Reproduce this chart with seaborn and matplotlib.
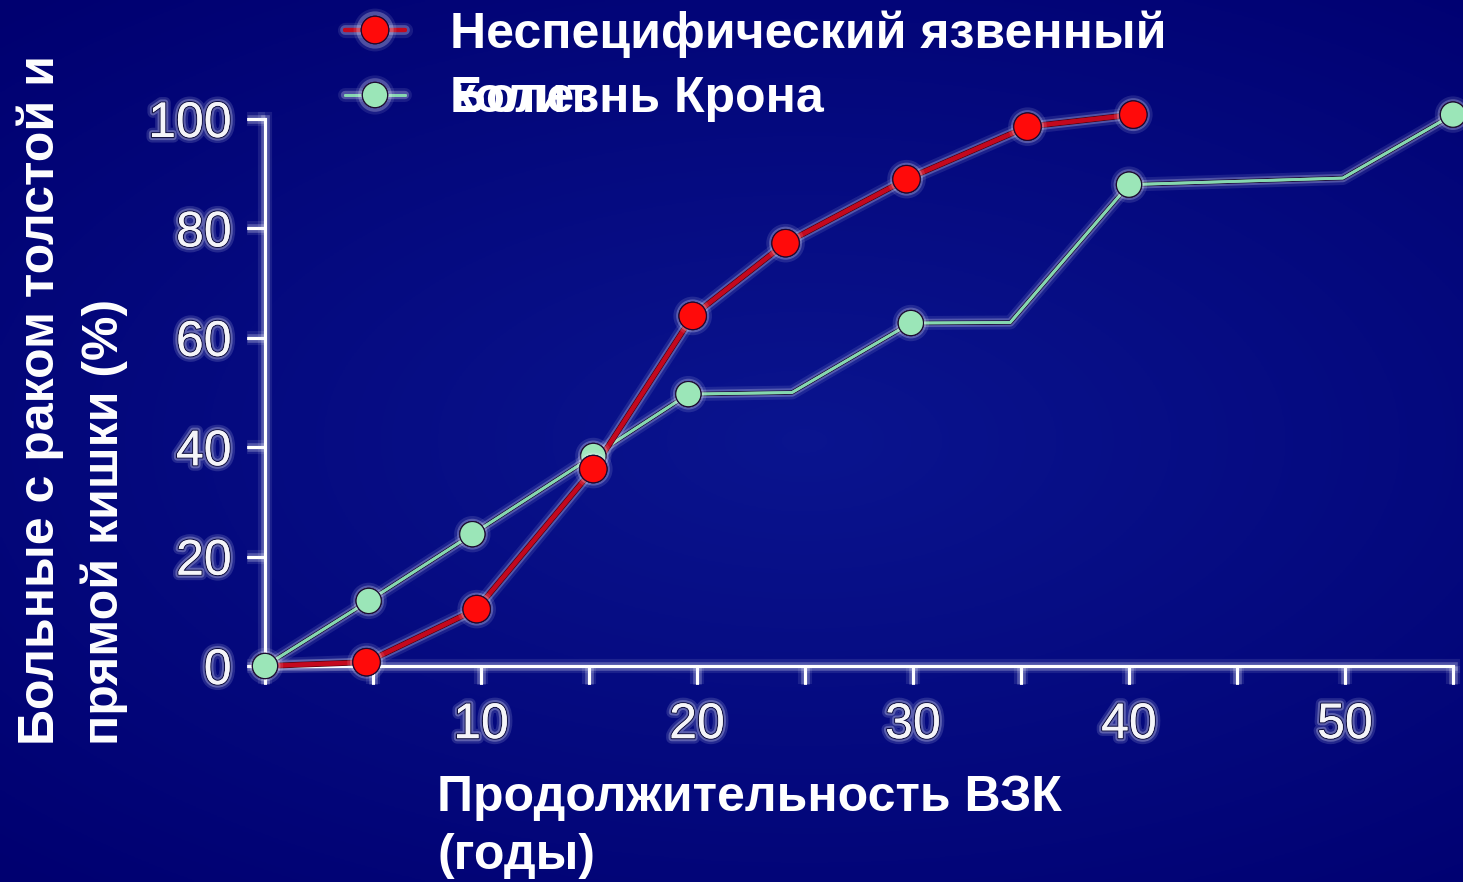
import numpy as np
import matplotlib
matplotlib.use("Agg")
import matplotlib.pyplot as plt
import matplotlib.patheffects as pe
from matplotlib.lines import Line2D
from matplotlib.transforms import IdentityTransform
import seaborn as sns

# Cumulative share of colorectal cancer cases by disease duration (years)
uc_years = [0, 4.7, 9.8, 15.2, 19.8, 24.1, 29.7, 35.3, 40.2]
uc_percent = [0, 0.7, 10.4, 36.0, 64.0, 77.3, 89.0, 98.6, 100.8]

cd_years = [0, 4.8, 9.6, 15.2, 19.6, 24.4, 29.9, 34.5, 40.0, 49.9, 55.0]
cd_percent = [0, 11.9, 24.1, 38.4, 49.7, 50.0, 62.7, 62.8, 88.0, 89.2, 100.8]
cd_has_marker = [True, True, True, True, True, False, True, False, True, False, True]

x_ticks = [0, 5, 10, 15, 20, 25, 30, 35, 40, 45, 50, 55]
x_tick_labels = ["", "", "10", "", "20", "", "30", "", "40", "", "50", ""]
y_ticks = [0, 20, 40, 60, 80, 100]
y_tick_labels = ["0", "20", "40", "60", "80", "100"]

series_labels = ["Неспецифический язвенный колит", "Болезнь Крона"]
x_label = "Продолжительность ВЗК\n(годы)"
y_label = "Больные с раком толстой и\nпрямой кишки (%)"

RED_FILL = "#ff0a0a"
RED_LINE = "#c4081e"
GREEN_FILL = "#9be6b8"
GREEN_LINE = "#86d8b0"
EDGE = "#1a0830"
TITLE_SIZE = 36

sns.set_theme(style="ticks")
plt.rcParams["font.family"] = ["Liberation Sans", "DejaVu Sans"]

W, H = 1463, 882
fig = plt.figure(figsize=(W / 100, H / 100), dpi=100)

# Slide background: navy with a softly lit centre
bg = fig.add_axes([0, 0, 1, 1], zorder=-10)
gy, gx = np.mgrid[0:1:300j, 0:1:500j]
r = np.sqrt(((gx - 0.55) / 1.0) ** 2 + ((gy - 0.5) / 0.85) ** 2)
t = np.clip(r / 0.8, 0, 1)[..., None]
inner = np.array([0.04, 0.08, 0.56])
outer = np.array([0.0, 0.0, 0.44])
bg.imshow(inner * (1 - t) + outer * t, aspect="auto", extent=[0, 1, 0, 1])
bg.set_axis_off()


def glow(lw, dark=None):
    effects = [
        pe.withStroke(linewidth=lw + 8, foreground=(0.9, 0.92, 1.0, 0.10)),
        pe.withStroke(linewidth=lw + 4, foreground=(0.95, 0.95, 1.0, 0.25)),
    ]
    if dark is not None:
        effects.append(pe.withStroke(linewidth=lw + 1.2, foreground=dark))
    effects.append(pe.Normal())
    return effects


ax = fig.add_axes([265 / W, 1 - 666 / H, (1453 - 265) / W, (666 - 119) / H])
ax.patch.set_alpha(0)

# Crohn's disease
sns.lineplot(x=cd_years, y=cd_percent, ax=ax, color=GREEN_LINE, linewidth=2.0,
             zorder=2, clip_on=False, path_effects=glow(2.0, EDGE))
cd_mx = [x for x, m in zip(cd_years, cd_has_marker) if m]
cd_my = [y for y, m in zip(cd_percent, cd_has_marker) if m]
sns.scatterplot(x=cd_mx, y=cd_my, ax=ax, s=330, color=GREEN_FILL,
                edgecolor=EDGE, linewidth=0.8, zorder=4, clip_on=False)

# Ulcerative colitis
sns.lineplot(x=uc_years, y=uc_percent, ax=ax, color=RED_LINE, linewidth=3.0,
             zorder=3, clip_on=False, path_effects=glow(3.0, "#500010"))
sns.scatterplot(x=uc_years[1:], y=uc_percent[1:], ax=ax, s=390, color=RED_FILL,
                edgecolor=EDGE, linewidth=0.8, zorder=5, clip_on=False)

for coll in ax.collections:
    coll.set_path_effects([
        pe.withStroke(linewidth=8, foreground=(0.9, 0.92, 1.0, 0.12)),
        pe.withStroke(linewidth=4, foreground=(0.95, 0.95, 1.0, 0.25)),
        pe.Normal(),
    ])

ax.set_xlim(0, 55)
ax.set_ylim(0, 100)
ax.set_xticks(x_ticks, x_tick_labels)
ax.set_yticks(y_ticks, y_tick_labels)
ax.set_xlabel("")
ax.set_ylabel("")
for side in ("top", "right"):
    ax.spines[side].set_visible(False)
for side in ("left", "bottom"):
    ax.spines[side].set_color("white")
    ax.spines[side].set_linewidth(2.2)
    ax.spines[side].set_path_effects(glow(2.2))
    ax.spines[side].set_zorder(1)

ax.tick_params(axis="both", direction="out", length=13, width=2.2,
               color="white", labelcolor="#f4f4f8", labelsize=36, pad=11)
ax.tick_params(axis="x", pad=13)
tick_glow = [
    pe.withStroke(linewidth=8, foreground=(0.9, 0.92, 1.0, 0.15)),
    pe.withStroke(linewidth=4.5, foreground=(0.95, 0.95, 1.0, 0.28)),
    pe.withStroke(linewidth=1.6, foreground="#101040"),
    pe.Normal(),
]
for lbl in ax.get_xticklabels() + ax.get_yticklabels():
    lbl.set_path_effects(tick_glow)
for tk in ax.xaxis.get_major_ticks() + ax.yaxis.get_major_ticks():
    tk.tick1line.set_path_effects(glow(2.2))

# Axis titles
fig.text(437 / W, 1 - 775 / H, x_label, color="white", fontsize=TITLE_SIZE,
         fontweight="bold", ha="left", va="top", linespacing=1.34)
fig.text(17 / W, 1 - 745 / H, y_label, color="white", fontsize=TITLE_SIZE,
         fontweight="bold", rotation=90, ha="left", va="bottom",
         multialignment="left", linespacing=1.42)

# Legend; the first label runs past its box and wraps onto the next row
first_words = series_labels[0].rsplit(" ", 1)
handles = [
    Line2D([], [], color=RED_LINE, lw=3.0, marker="o", markersize=19.8,
           markerfacecolor=RED_FILL, markeredgecolor=EDGE, markeredgewidth=0.8,
           path_effects=glow(3.0)),
    Line2D([], [], color=GREEN_LINE, lw=2.0, marker="o", markersize=18.2,
           markerfacecolor=GREEN_FILL, markeredgecolor=EDGE, markeredgewidth=0.8,
           path_effects=glow(2.0)),
]
leg = fig.legend(handles, [first_words[0], series_labels[1]], loc="upper left",
                 bbox_to_anchor=(345 / W, 1 - 10 / H), frameon=False,
                 prop={"size": TITLE_SIZE, "weight": "bold"}, labelcolor="white",
                 handlelength=1.2, handletextpad=0.9, labelspacing=0.38,
                 borderpad=0.0, borderaxespad=0.0)

fig.canvas.draw()
bb = leg.get_texts()[1].get_window_extent()
fig.text(bb.x0, bb.y0, first_words[1], transform=IdentityTransform(),
         color="white", fontsize=TITLE_SIZE, fontweight="bold",
         ha="left", va="bottom")

fig.savefig("out.png", dpi=100)
